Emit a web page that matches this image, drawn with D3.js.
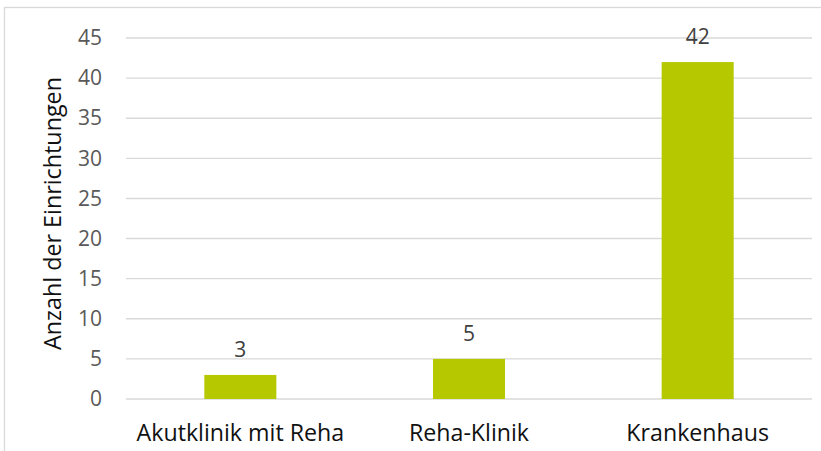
<!DOCTYPE html>
<html><head><meta charset="utf-8">
<script src="https://cdn.jsdelivr.net/npm/d3@7"></script>
<style>
html,body{margin:0;padding:0;background:#fff;}
svg{display:block;font-family:"Open Sans",sans-serif;}
</style></head><body>
<svg id="c" width="821" height="451"></svg>
<script>
const categories = ["Akutklinik mit Reha", "Reha-Klinik", "Krankenhaus"];
const values = [3, 5, 42];
const yTicks = [0, 5, 10, 15, 20, 25, 30, 35, 40, 45];
const yTitle = "Anzahl der Einrichtungen";

const svg = d3.select("#c");
const W = 821, H = 451;
const m = {left: 126, right: 9, top: 38, bottom: 52};
const x = d3.scaleBand().domain(categories).range([m.left, W - m.right]).paddingInner(0.685).paddingOuter(0.3425);
const y = d3.scaleLinear().domain([0, 45]).range([H - m.bottom, m.top]);

// border
svg.append("rect").attr("x", 4.5).attr("y", 7.5).attr("width", W + 10).attr("height", H + 10)
  .attr("fill", "none").attr("stroke", "#d9d9d9").attr("stroke-width", 1.3);

// gridlines
svg.append("g").selectAll("line").data(yTicks).join("line")
  .attr("x1", m.left).attr("x2", W - m.right)
  .attr("y1", d => y(d)).attr("y2", d => y(d))
  .attr("stroke", "#d9d9d9").attr("stroke-width", 1.4);

// y axis labels
const yAxis = d3.axisLeft(y).tickValues(yTicks).tickSize(0).tickPadding(24);
const gy = svg.append("g").attr("transform", `translate(${m.left},0)`).call(yAxis);
gy.select(".domain").remove();
gy.selectAll("text").attr("font-size", 21).attr("fill", "#595959").attr("font-family", "Open Sans");

// bars
svg.append("g").selectAll("rect").data(values).join("rect")
  .attr("x", (d, i) => x(categories[i])).attr("width", x.bandwidth())
  .attr("y", d => y(d)).attr("height", d => y(0) - y(d))
  .attr("fill", "#b5c800");

// value labels
svg.append("g").selectAll("text").data(values).join("text")
  .attr("x", (d, i) => x(categories[i]) + x.bandwidth() / 2)
  .attr("y", d => y(d) - 18)
  .attr("text-anchor", "middle").attr("font-size", 21).attr("fill", "#404040")
  .text(d => d);

// x axis labels
const xAxis = d3.axisBottom(x).tickSize(0).tickPadding(26);
const gx = svg.append("g").attr("transform", `translate(0,${y(0)})`).call(xAxis);
gx.select(".domain").remove();
gx.selectAll("text").attr("font-size", 23.2).attr("fill", "#111").attr("font-family", "Open Sans");

// y title
svg.append("text").attr("transform", `translate(61,213.5) rotate(-90)`)
  .attr("text-anchor", "middle").attr("font-size", 23.3).attr("fill", "#111")
  .text(yTitle);
</script></body></html>
